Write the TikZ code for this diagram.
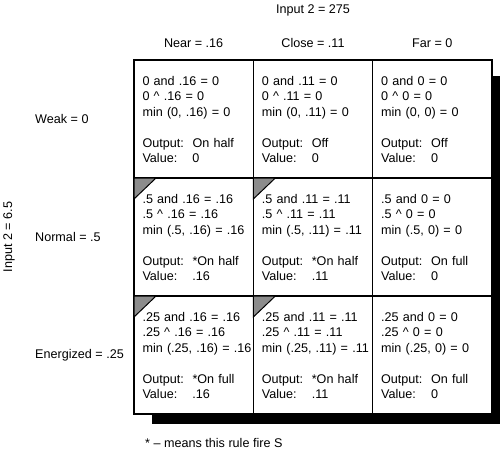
\documentclass[tikz,border=0pt]{standalone}
\usepackage{fontspec}
\setmainfont{Liberation Sans}
\usetikzlibrary{backgrounds}

\tikzset{
    cell/.style={draw, line width=1.1pt, fill=white, outer sep=0pt,
        minimum width=119.33pt, minimum height=118pt, text width=102.33pt,
        inner xsep=8.5pt, inner ysep=0pt, align=left,
        font=\fontsize{12.6}{15.5}\selectfont},
    lbl/.style={inner sep=0pt, font=\fontsize{12.6}{14}\selectfont},
    fired/.style={fill=black!45, draw=black, line width=1pt}
}
\newcommand{\rulecell}[1]{\begin{tabular}{@{}l@{}}\rule{0pt}{15pt}#1\end{tabular}}
\newcommand{\outcome}[2]{\makebox[50pt][l]{Output:}#1\\\makebox[50pt][l]{Value:}#2}

\begin{document}
\begin{tikzpicture}[x=1pt, y=-1pt]
    \useasboundingbox (0, 0) rectangle (500, 450);

    % Shadow behind the grid
    \fill[black] (152, 76) rectangle (500, 424);

    % Row Weak = 0
    \node[cell] (c11) at (193.67, 119) {\rulecell{0 and .16 = 0\\0 \textasciicircum{} .16 = 0\\min (0, .16) = 0\\[15.5pt]\outcome{On half}{0}}};
    \node[cell] (c12) at (313, 119) {\rulecell{0 and .11 = 0\\0 \textasciicircum{} .11 = 0\\min (0, .11) = 0\\[15.5pt]\outcome{Off}{0}}};
    \node[cell] (c13) at (432.33, 119) {\rulecell{0 and 0 = 0\\0 \textasciicircum{} 0 = 0\\min (0, 0) = 0\\[15.5pt]\outcome{Off}{0}}};

    % Row Normal = .5
    \node[cell] (c21) at (193.67, 237) {\rulecell{.5 and .16 = .16\\.5 \textasciicircum{} .16 = .16\\min (.5, .16) = .16\\[15.5pt]\outcome{*On half}{.16}}};
    \node[cell] (c22) at (313, 237) {\rulecell{.5 and .11 = .11\\.5 \textasciicircum{} .11 = .11\\min (.5, .11) = .11\\[15.5pt]\outcome{*On half}{.11}}};
    \node[cell] (c23) at (432.33, 237) {\rulecell{.5 and 0 = 0\\.5 \textasciicircum{} 0 = 0\\min (.5, 0) = 0\\[15.5pt]\outcome{On full}{0}}};

    % Row Energized = .25
    \node[cell] (c31) at (193.67, 355) {\rulecell{.25 and .16 = .16\\.25 \textasciicircum{} .16 = .16\\min (.25, .16) = .16\\[15.5pt]\outcome{*On full}{.16}}};
    \node[cell] (c32) at (313, 355) {\rulecell{.25 and .11 = .11\\.25 \textasciicircum{} .11 = .11\\min (.25, .11) = .11\\[15.5pt]\outcome{*On half}{.11}}};
    \node[cell] (c33) at (432.33, 355) {\rulecell{.25 and 0 = 0\\.25 \textasciicircum{} 0 = 0\\min (.25, 0) = 0\\[15.5pt]\outcome{On full}{0}}};

    % Corner marks of the rules that fire
    \filldraw[fired] (c21.north west) -- ++(22, 0) -- ++(-22, 21) -- cycle;
    \filldraw[fired] (c22.north west) -- ++(22, 0) -- ++(-22, 21) -- cycle;
    \filldraw[fired] (c31.north west) -- ++(22, 0) -- ++(-22, 21) -- cycle;
    \filldraw[fired] (c32.north west) -- ++(22, 0) -- ++(-22, 21) -- cycle;

    % Column labels
    \node[lbl] (in2) at (313, 10) {Input 2 = 275};
    \node[lbl] (near) at (193.67, 43) {Near = .16};
    \node[lbl] (close) at (313, 43) {Close = .11};
    \node[lbl] (far) at (432.33, 43) {Far = 0};

    % Row labels
    \node[lbl, rotate=90] (in1) at (9, 237) {Input 2 = 6.5};
    \node[lbl, anchor=west] (weak) at (35, 119) {Weak = 0};
    \node[lbl, anchor=west] (normal) at (35, 237) {Normal = .5};
    \node[lbl, anchor=west] (energized) at (35, 355) {Energized = .25};

    \node[lbl, anchor=west] (note) at (145, 443) {* -- means this rule fire S};
\end{tikzpicture}
\end{document}
